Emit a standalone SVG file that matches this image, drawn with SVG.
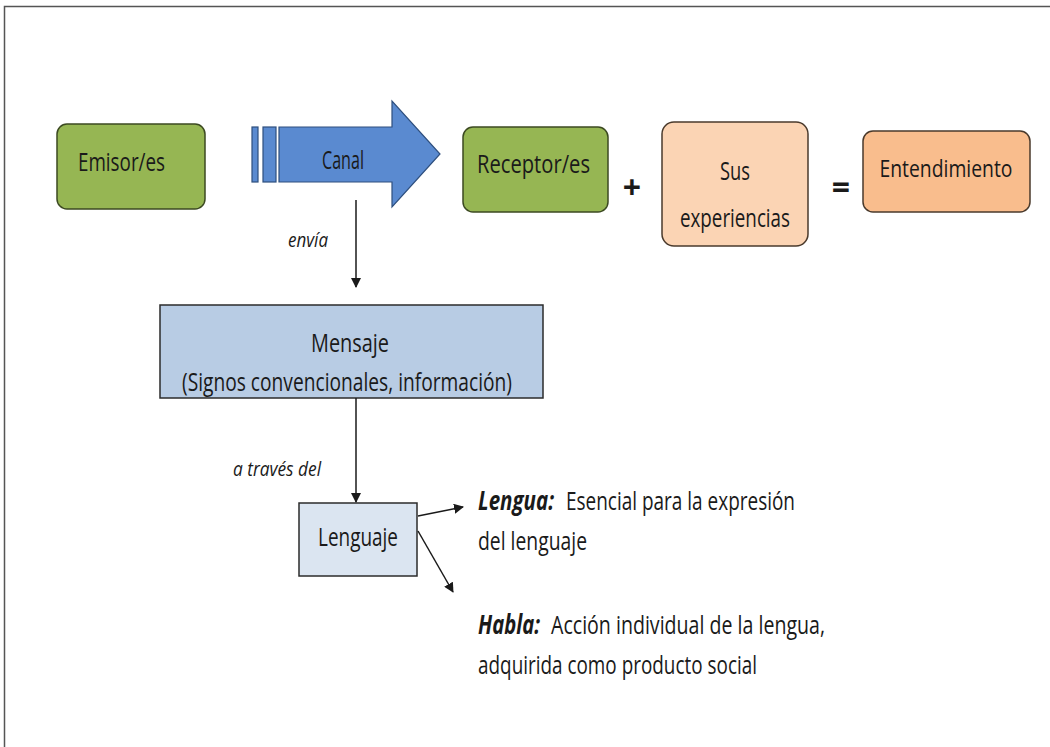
<svg xmlns="http://www.w3.org/2000/svg" width="1050" height="747" viewBox="0 0 1050 747">
<style>
  text { font-family: "Open Sans", "Liberation Sans", sans-serif; fill: #1a1a1a; }
  .lbl { font-size: 26px; }
  .bi { font-size: 26px; font-style: italic; font-weight: bold; }
  .it { font-style: italic; font-size: 20px; }
  .op { font-size: 32px; font-weight: bold; }
  .green { fill: #96b653; stroke: #3c4a22; stroke-width: 1.5; }
  .peach { fill: #fbd4b4; stroke: #4a3a2c; stroke-width: 1.5; }
  .orange { fill: #f9bd8d; stroke: #4a3a2c; stroke-width: 1.5; }
  .conn { stroke: #1a1a1a; stroke-width: 1.5; fill: none; }
</style>
<defs>
  <marker id="ah" markerWidth="10" markerHeight="10" refX="9" refY="5" orient="auto" markerUnits="userSpaceOnUse">
    <path d="M0,0 L10,5 L0,10 z" fill="#1a1a1a"/>
  </marker>
</defs>
<rect x="0" y="0" width="1050" height="747" fill="#ffffff"/>
<path d="M4.5,747 L4.5,6.5 L1050,6.5" fill="none" stroke="#555" stroke-width="1.5"/>

<g id="emisor">
  <rect class="green" x="57" y="124" width="148" height="85" rx="10"/>
  <text class="lbl" x="78" y="171" textLength="87" lengthAdjust="spacingAndGlyphs">Emisor/es</text>
</g>

<g id="canal">
  <rect x="252" y="127" width="6" height="55" fill="#5a8ad0" stroke="#2e4f7e" stroke-width="1.2"/>
  <rect x="263" y="127" width="13" height="55" fill="#5a8ad0" stroke="#2e4f7e" stroke-width="1.2"/>
  <path d="M279,127 L392,127 L392,101 L440,154 L392,207 L392,182 L279,182 Z" fill="#5a8ad0" stroke="#2e4f7e" stroke-width="1.2"/>
  <text class="lbl" x="343" y="169" text-anchor="middle" textLength="42" lengthAdjust="spacingAndGlyphs">Canal</text>
</g>

<g id="receptor">
  <rect class="green" x="463" y="127" width="145" height="85" rx="10"/>
  <text class="lbl" x="477" y="173" textLength="113" lengthAdjust="spacingAndGlyphs">Receptor/es</text>
</g>

<g id="plus">
  <text class="op" x="632" y="199" text-anchor="middle">+</text>
</g>

<g id="experiencias">
  <rect class="peach" x="662" y="122" width="146" height="124" rx="12"/>
  <text class="lbl" x="735" y="180" text-anchor="middle" textLength="30" lengthAdjust="spacingAndGlyphs">Sus</text>
  <text class="lbl" x="735" y="227" text-anchor="middle" textLength="110" lengthAdjust="spacingAndGlyphs">experiencias</text>
</g>

<g id="equals">
  <text class="op" x="841" y="199" text-anchor="middle">=</text>
</g>

<g id="entendimiento">
  <rect class="orange" x="863" y="131" width="167" height="81" rx="10"/>
  <text x="946" y="177" font-size="24" text-anchor="middle" textLength="133" lengthAdjust="spacingAndGlyphs">Entendimiento</text>
</g>

<g id="mensaje">
  <rect x="160" y="305" width="383" height="93" fill="#b8cce4" stroke="#2b2b2b" stroke-width="1.5"/>
  <text class="lbl" x="350" y="352" text-anchor="middle" textLength="78" lengthAdjust="spacingAndGlyphs">Mensaje</text>
  <text class="lbl" x="347" y="391" text-anchor="middle" textLength="330" lengthAdjust="spacingAndGlyphs">(Signos convencionales, información)</text>
</g>

<g id="lenguaje">
  <rect x="299" y="503" width="118" height="73" fill="#dbe5f1" stroke="#2b2b2b" stroke-width="1.5"/>
  <text class="lbl" x="358" y="546" text-anchor="middle" textLength="80" lengthAdjust="spacingAndGlyphs">Lenguaje</text>
</g>

<g id="lengua-def">
  <text class="bi" x="478" y="510" textLength="76" lengthAdjust="spacingAndGlyphs">Lengua:</text>
  <text class="lbl" x="566" y="510" textLength="229" lengthAdjust="spacingAndGlyphs">Esencial para la expresión</text>
  <text class="lbl" x="478" y="550" textLength="109" lengthAdjust="spacingAndGlyphs">del lenguaje</text>
</g>

<g id="habla-def">
  <text class="bi" x="478" y="634" textLength="62" lengthAdjust="spacingAndGlyphs">Habla:</text>
  <text class="lbl" x="551" y="634" textLength="274" lengthAdjust="spacingAndGlyphs">Acción individual de la lengua,</text>
  <text class="lbl" x="478" y="674" textLength="279" lengthAdjust="spacingAndGlyphs">adquirida como producto social</text>
</g>

<g id="connectors">
  <line class="conn" x1="356" y1="200" x2="356" y2="287" marker-end="url(#ah)"/>
  <text class="it" x="288" y="247" textLength="40" lengthAdjust="spacingAndGlyphs">envía</text>
  <line class="conn" x1="356" y1="398" x2="356" y2="502" marker-end="url(#ah)"/>
  <text class="it" x="233" y="476" textLength="88" lengthAdjust="spacingAndGlyphs">a través del</text>
  <line class="conn" x1="418" y1="516" x2="463" y2="507" marker-end="url(#ah)"/>
  <line class="conn" x1="418" y1="531" x2="453" y2="592" marker-end="url(#ah)"/>
</g>
</svg>
